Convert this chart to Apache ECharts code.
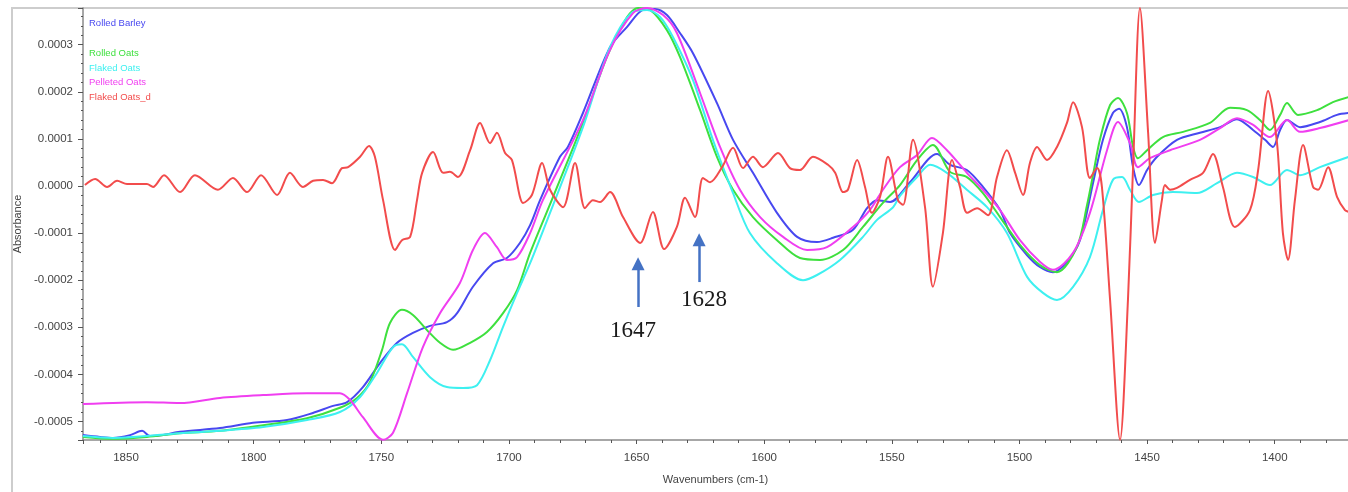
<!DOCTYPE html>
<html>
<head>
<meta charset="utf-8">
<script src="https://cdn.jsdelivr.net/npm/echarts@6/dist/echarts.min.js"></script>
<style>
html, body { margin: 0; padding: 0; background: #fff; }
#main { width: 1348px; height: 492px; }
</style>
</head>
<body>
<div id="main"></div>
<script>
// spectra: wavenumber (cm-1) and absorbance
var wnBarley = [1866.9,1860.2,1855.1,1848.4,1843.7,1840.6,1835.5,1828.9,1813.2,1800.3,1786.9,1776.8,1768.9,1763.4,1757.2,1750.5,1743.8,1737.6,1730.9,1724.3,1720.3,1714.1,1706.2,1700.8,1695.7,1691.7,1687.8,1680.0,1676.9,1671.0,1660.4,1653.7,1647.5,1642.8,1638.1,1633.0,1627.9,1618.5,1612.2,1604.4,1595.0,1587.1,1579.3,1573.0,1565.2,1559.7,1555.8,1550.7,1542.9,1532.3,1527.2,1520.6,1514.3,1507.6,1503.7,1497.0,1492.0,1486.9,1481.4,1476.3,1471.2,1467.3,1463.4,1461.0,1457.9,1455.5,1453.2,1450.0,1446.1,1438.3,1429.3,1421.4,1414.8,1408.5,1403.8,1400.7,1397.9,1395.2,1390.1,1382.3,1375.6,1370.9];
var absBarley = [-5.29e-4,-5.33e-4,-5.35e-4,-5.29e-4,-5.20e-4,-5.31e-4,-5.29e-4,-5.22e-4,-5.14e-4,-5.03e-4,-4.97e-4,-4.82e-4,-4.67e-4,-4.59e-4,-4.27e-4,-3.76e-4,-3.33e-4,-3.12e-4,-2.97e-4,-2.89e-4,-2.70e-4,-2.14e-4,-1.64e-4,-1.53e-4,-1.21e-4,-0.83e-4,-0.30e-4,0.62e-4,0.83e-4,1.55e-4,2.95e-4,3.38e-4,3.74e-4,3.76e-4,3.63e-4,3.25e-4,2.82e-4,1.76e-4,0.98e-4,0.28e-4,-0.57e-4,-1.08e-4,-1.19e-4,-1.10e-4,-0.93e-4,-0.47e-4,-0.30e-4,-0.34e-4,0.08e-4,0.68e-4,0.45e-4,0.34e-4,-0.02e-4,-0.51e-4,-1.00e-4,-1.47e-4,-1.72e-4,-1.83e-4,-1.61e-4,-1.15e-4,0.06e-4,0.98e-4,1.55e-4,1.64e-4,1.25e-4,0.40e-4,0.02e-4,0.34e-4,0.62e-4,0.98e-4,1.13e-4,1.25e-4,1.42e-4,1.19e-4,0.98e-4,0.83e-4,1.19e-4,1.40e-4,1.25e-4,1.36e-4,1.51e-4,1.55e-4];

var wnRolledOats = [1866.9,1855.1,1841.8,1828.9,1813.2,1796.3,1779.1,1766.2,1759.5,1754.4,1749.7,1746.6,1741.9,1737.6,1732.1,1727.0,1721.9,1715.2,1708.6,1702.3,1696.8,1691.7,1682.7,1671.0,1661.6,1653.7,1649.4,1644.7,1638.1,1633.0,1625.1,1618.5,1612.2,1604.4,1595.0,1586.0,1578.1,1569.1,1561.3,1553.5,1546.8,1540.1,1533.9,1527.2,1520.6,1514.3,1507.6,1499.8,1492.0,1485.3,1477.5,1473.5,1471.2,1468.5,1464.5,1461.4,1457.9,1455.5,1453.6,1450.0,1443.8,1435.9,1425.4,1417.5,1410.9,1405.8,1401.9,1397.9,1395.2,1390.9,1383.4,1377.2,1370.9];
var absRolledOats = [-5.33e-4,-5.37e-4,-5.33e-4,-5.25e-4,-5.20e-4,-5.08e-4,-4.93e-4,-4.71e-4,-4.50e-4,-4.16e-4,-3.48e-4,-2.91e-4,-2.63e-4,-2.74e-4,-3.06e-4,-3.33e-4,-3.48e-4,-3.33e-4,-3.10e-4,-2.70e-4,-2.21e-4,-1.42e-4,-0.23e-4,1.34e-4,2.74e-4,3.59e-4,3.78e-4,3.74e-4,3.31e-4,2.74e-4,1.61e-4,0.62e-4,-0.08e-4,-0.66e-4,-1.15e-4,-1.53e-4,-1.57e-4,-1.36e-4,-0.87e-4,-0.36e-4,0.02e-4,0.55e-4,0.87e-4,0.30e-4,0.19e-4,-0.15e-4,-0.66e-4,-1.25e-4,-1.68e-4,-1.83e-4,-1.30e-4,-0.40e-4,0.23e-4,0.98e-4,1.72e-4,1.87e-4,1.55e-4,0.83e-4,0.59e-4,0.76e-4,1.04e-4,1.15e-4,1.34e-4,1.66e-4,1.61e-4,1.40e-4,1.19e-4,1.51e-4,1.76e-4,1.51e-4,1.61e-4,1.78e-4,1.89e-4];

var wnFlakedOats = [1866.9,1855.1,1828.9,1813.2,1796.3,1779.1,1766.2,1758.3,1751.7,1745.4,1741.9,1737.6,1730.9,1724.3,1718.0,1712.5,1707.4,1702.3,1696.8,1691.7,1683.9,1671.0,1660.4,1651.4,1645.9,1640.8,1635.7,1627.9,1620.1,1612.2,1605.6,1595.0,1584.8,1579.3,1570.3,1561.3,1555.8,1549.5,1546.8,1540.1,1535.0,1528.4,1520.6,1512.7,1504.9,1497.0,1490.8,1485.3,1479.0,1472.4,1467.3,1463.4,1459.8,1456.7,1453.2,1447.7,1439.9,1430.5,1422.6,1414.8,1408.5,1401.9,1395.2,1390.1,1382.3,1370.9];
var absFlakedOats = [-5.31e-4,-5.35e-4,-5.25e-4,-5.20e-4,-5.12e-4,-4.97e-4,-4.80e-4,-4.48e-4,-3.97e-4,-3.42e-4,-3.36e-4,-3.63e-4,-4.06e-4,-4.27e-4,-4.29e-4,-4.23e-4,-3.70e-4,-2.99e-4,-2.27e-4,-1.64e-4,-0.57e-4,1.25e-4,2.95e-4,3.70e-4,3.74e-4,3.59e-4,3.16e-4,2.25e-4,0.98e-4,-0.15e-4,-1.00e-4,-1.64e-4,-2.00e-4,-1.89e-4,-1.57e-4,-1.08e-4,-0.72e-4,-0.45e-4,-0.21e-4,0.19e-4,0.45e-4,0.28e-4,-0.08e-4,-0.45e-4,-1.00e-4,-1.93e-4,-2.27e-4,-2.42e-4,-2.14e-4,-1.51e-4,-0.51e-4,0.13e-4,0.19e-4,-0.08e-4,-0.34e-4,-0.19e-4,-0.13e-4,-0.15e-4,0.06e-4,0.28e-4,0.19e-4,0.02e-4,0.34e-4,0.23e-4,0.40e-4,0.62e-4];

var wnPelletedOats = [1866.9,1841.8,1828.9,1813.2,1796.3,1779.1,1766.2,1762.3,1757.2,1749.3,1745.4,1739.9,1733.7,1727.0,1719.2,1714.1,1709.4,1704.7,1700.8,1696.8,1691.7,1686.7,1671.0,1660.4,1651.4,1645.9,1639.6,1634.2,1625.1,1617.3,1609.5,1601.6,1592.6,1583.2,1575.4,1565.2,1558.6,1553.5,1546.8,1540.1,1534.3,1528.4,1520.6,1514.3,1507.6,1499.8,1492.0,1486.9,1479.0,1472.4,1465.7,1461.4,1456.7,1453.6,1448.9,1441.0,1429.3,1421.4,1414.8,1408.5,1401.9,1395.2,1390.1,1382.3,1370.9];
var absPelletedOats = [-4.63e-4,-4.59e-4,-4.61e-4,-4.50e-4,-4.44e-4,-4.40e-4,-4.40e-4,-4.54e-4,-4.91e-4,-5.39e-4,-5.24e-4,-4.40e-4,-3.42e-4,-2.70e-4,-2.06e-4,-1.36e-4,-1.00e-4,-1.30e-4,-1.57e-4,-1.51e-4,-1.00e-4,-0.30e-4,1.40e-4,2.89e-4,3.67e-4,3.78e-4,3.63e-4,3.25e-4,1.97e-4,0.83e-4,-0.08e-4,-0.66e-4,-1.08e-4,-1.36e-4,-1.30e-4,-0.87e-4,-0.51e-4,-0.08e-4,0.40e-4,0.66e-4,1.02e-4,0.76e-4,0.28e-4,-0.08e-4,-0.51e-4,-1.15e-4,-1.61e-4,-1.78e-4,-1.42e-4,-0.57e-4,0.76e-4,1.36e-4,0.91e-4,0.40e-4,0.59e-4,0.76e-4,0.98e-4,1.23e-4,1.44e-4,1.30e-4,1.04e-4,1.40e-4,1.15e-4,1.23e-4,1.40e-4];

var wnFlakedD = [1866.1,1862.1,1857.4,1853.5,1849.6,1841.8,1839.4,1835.1,1828.8,1823.0,1814.0,1808.1,1802.6,1797.1,1790.8,1785.8,1780.7,1776.7,1772.8,1769.3,1765.4,1763.0,1758.3,1754.8,1752.5,1749.3,1744.6,1741.9,1738.7,1736.0,1734.0,1729.7,1725.8,1723.1,1720.0,1715.2,1711.3,1707.4,1704.7,1701.5,1698.8,1695.7,1694.5,1691.0,1687.0,1683.9,1678.8,1674.1,1670.2,1667.1,1664.3,1660.4,1655.3,1648.6,1643.6,1639.2,1634.2,1631.0,1627.1,1624.0,1621.2,1616.5,1612.2,1608.3,1604.4,1600.5,1594.6,1589.9,1586.0,1580.9,1575.0,1572.2,1569.1,1567.2,1563.6,1560.5,1557.8,1554.6,1551.5,1547.6,1545.6,1541.7,1537.0,1533.9,1530.0,1526.4,1523.3,1520.5,1516.6,1512.3,1508.8,1504.9,1501.7,1498.6,1495.9,1493.1,1489.2,1485.3,1481.4,1479.0,1475.5,1472.4,1469.6,1467.7,1464.5,1460.6,1457.5,1455.5,1452.8,1449.6,1446.9,1444.2,1443.0,1441.0,1438.3,1433.2,1428.1,1424.2,1420.3,1415.6,1409.7,1406.5,1402.6,1399.1,1396.8,1394.8,1392.1,1388.9,1385.0,1383.0,1379.1,1375.6,1372.5,1371.0];
var absFlakedD = [0.02e-4,0.15e-4,-0.02e-4,0.11e-4,0.04e-4,0.04e-4,-0.02e-4,0.23e-4,-0.13e-4,0.23e-4,-0.08e-4,0.17e-4,-0.13e-4,0.23e-4,-0.19e-4,0.28e-4,-0.02e-4,0.11e-4,0.13e-4,0.06e-4,0.38e-4,0.40e-4,0.62e-4,0.85e-4,0.62e-4,-0.30e-4,-1.36e-4,-1.15e-4,-1.08e-4,-0.30e-4,0.28e-4,0.72e-4,0.28e-4,0.30e-4,0.19e-4,0.76e-4,1.34e-4,0.91e-4,1.13e-4,0.70e-4,0.55e-4,-0.23e-4,-0.36e-4,-0.19e-4,0.49e-4,-0.08e-4,-0.45e-4,0.49e-4,-0.47e-4,-0.30e-4,-0.34e-4,-0.13e-4,-0.66e-4,-1.21e-4,-0.55e-4,-1.34e-4,-0.87e-4,-0.25e-4,-0.66e-4,0.17e-4,0.08e-4,0.40e-4,0.81e-4,0.38e-4,0.62e-4,0.40e-4,0.70e-4,0.38e-4,0.34e-4,0.62e-4,0.45e-4,0.28e-4,-0.13e-4,-0.08e-4,0.55e-4,-0.02e-4,-0.57e-4,-0.23e-4,0.62e-4,-0.30e-4,-0.40e-4,0.98e-4,-0.45e-4,-2.14e-4,-1.00e-4,0.55e-4,-0.02e-4,-0.57e-4,-0.47e-4,-0.62e-4,0.19e-4,0.76e-4,0.28e-4,-0.19e-4,0.49e-4,0.83e-4,0.55e-4,0.83e-4,1.34e-4,1.78e-4,1.25e-4,0.17e-4,0.38e-4,-0.02e-4,-2.42e-4,-5.39e-4,-2.42e-4,0.40e-4,3.78e-4,1.13e-4,-1.21e-4,-0.30e-4,0.02e-4,-0.08e-4,-0.04e-4,0.13e-4,0.28e-4,0.68e-4,-0.02e-4,-0.87e-4,-0.51e-4,0.34e-4,2.02e-4,0.91e-4,-1.00e-4,-1.57e-4,-0.30e-4,0.87e-4,-0.02e-4,-0.08e-4,0.40e-4,-0.23e-4,-0.51e-4,-0.55e-4];

var seriesNames = ['Rolled Barley', 'Rolled Oats', 'Flaked Oats', 'Pelleted Oats', 'Flaked Oats_d'];
var seriesColors = ['#4848f0', '#3ee03e', '#3ef0f0', '#f03ef0', '#f24c4c'];

// arrows marking the two bands
var peakLabels = ['1647', '1628'];
var arrowWn = [1649.4, 1625.5];
var arrowTail = [-2.57e-4, -2.04e-4];
var arrowHead = [-1.65e-4, -1.14e-4];
var labelWn = [1651.4, 1623.6];
var labelAbs = [-3.08e-4, -2.42e-4];

var xMin = 1371.3, xMax = 1866.85;
var yMin = -5.394e-4, yMax = 3.78e-4;

function pairs(xs, ys) {
  return xs.map(function (x, i) { return [x, ys[i]]; });
}

function spectrum(i, xs, ys) {
  return {
    name: seriesNames[i],
    type: 'line',
    data: pairs(xs, ys),
    symbol: 'none',
    smooth: 0.3,
    silent: true,
    lineStyle: { color: seriesColors[i], width: 2 },
    itemStyle: { color: seriesColors[i] }
  };
}

var chart = echarts.init(document.getElementById('main'));

var red = spectrum(4, wnFlakedD, absFlakedD);
red.markLine = {
  silent: true,
  symbol: ['none', 'triangle'],
  symbolSize: 13,
  label: { show: false },
  lineStyle: { color: '#4472c4', width: 2.5, type: 'solid' },
  itemStyle: { color: '#4472c4' },
  data: arrowWn.map(function (w, i) {
    return [{ coord: [w, arrowTail[i]] }, { coord: [w, arrowHead[i]] }];
  })
};
red.markPoint = {
  silent: true,
  symbol: 'circle',
  symbolSize: 0,
  label: {
    show: true, position: 'inside', formatter: '{b}',
    fontFamily: 'Liberation Serif', fontSize: 23, color: '#1a1a1a'
  },
  data: peakLabels.map(function (t, i) {
    return { name: t, coord: [labelWn[i], labelAbs[i]] };
  })
};

function legendItem(i) {
  return { name: seriesNames[i], textStyle: { color: seriesColors[i] } };
}

var legendBase = {
  left: 78,
  orient: 'vertical',
  itemWidth: 0,
  itemHeight: 0,
  itemGap: 0,
  selectedMode: false,
  itemStyle: { opacity: 0 },
  lineStyle: { opacity: 0 },
  textStyle: { fontFamily: 'Liberation Sans', fontSize: 9.5, lineHeight: 14.7 }
};

var option = {
  animation: false,
  backgroundColor: '#fff',
  grid: { left: 83, right: 0, top: 8, bottom: 52, containLabel: false },
  graphic: [{
    type: 'rect', z: -1,
    shape: { x: 12, y: 8, width: 1400, height: 500 },
    style: { fill: 'none', stroke: '#cdcdcd', lineWidth: 2 }
  }],
  legend: [
    Object.assign({}, legendBase, { top: 11, data: [legendItem(0)] }),
    Object.assign({}, legendBase, { top: 41, data: [legendItem(1), legendItem(2), legendItem(3), legendItem(4)] })
  ],
  xAxis: {
    type: 'value',
    inverse: true,
    min: xMin,
    max: xMax,
    minInterval: 50,
    maxInterval: 50,
    name: 'Wavenumbers (cm-1)',
    nameLocation: 'middle',
    nameGap: 34,
    nameTextStyle: { fontFamily: 'Liberation Sans', fontSize: 11, color: '#444' },
    axisLine: { show: true, onZero: false, lineStyle: { color: '#8a8a8a', width: 1.5 } },
    axisTick: { show: true, length: 4, lineStyle: { color: '#555' } },
    minorTick: { show: true, splitNumber: 5, length: 3, lineStyle: { color: '#555' } },
    axisLabel: {
      showMinLabel: false, showMaxLabel: false, margin: 12,
      fontFamily: 'Liberation Sans', fontSize: 11.5, color: '#444',
      formatter: function (v) { return String(v); }
    },
    splitLine: { show: false }
  },
  yAxis: {
    type: 'value',
    min: yMin,
    max: yMax,
    minInterval: 1e-4,
    maxInterval: 1e-4,
    name: 'Absorbance',
    nameLocation: 'middle',
    nameGap: 55,
    nameTextStyle: { fontFamily: 'Liberation Sans', fontSize: 11, color: '#444' },
    axisLine: { show: true, onZero: false, lineStyle: { color: '#8a8a8a', width: 1.5 } },
    axisTick: { show: true, length: 5, lineStyle: { color: '#555' } },
    minorTick: { show: true, splitNumber: 5, length: 2, lineStyle: { color: '#555' } },
    axisLabel: {
      showMinLabel: false, showMaxLabel: false, margin: 10,
      fontFamily: 'Liberation Sans', fontSize: 11.5, color: '#444',
      formatter: function (v) { return v.toFixed(4); }
    },
    splitLine: { show: false }
  },
  series: [
    spectrum(0, wnBarley, absBarley),
    spectrum(1, wnRolledOats, absRolledOats),
    spectrum(2, wnFlakedOats, absFlakedOats),
    spectrum(3, wnPelletedOats, absPelletedOats),
    red
  ]
};

chart.setOption(option);
</script>
</body>
</html>
